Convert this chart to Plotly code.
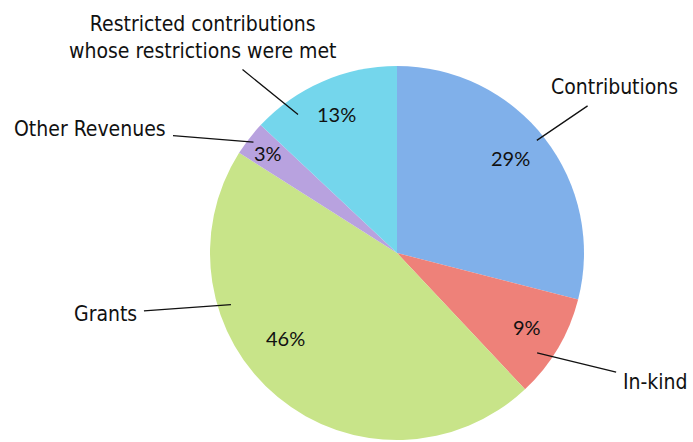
import math
import plotly.graph_objects as go

# ---- data ----
categories = ["Contributions", "In-kind", "Grants", "Other Revenues",
              "Restricted contributions<br>whose restrictions were met"]
shares = [29, 9, 46, 3, 13]

# ---- style ----
colors = ["#80B0EA", "#EE8179", "#C8E489", "#B8A2DF", "#74D6EC"]
W, H = 693, 442
CX, CY, R = 397, 253, 187          # pie centre / radius in pixels
# where each leader line touches its slice (fraction of slice span / radius)
anchor_frac = [0.49, 0.65, 0.70, 0.49, 0.24]
anchor_rad = [0.96, 0.92, 0.93, 0.97, 0.91]
# text offset (pixels) from the leader-line tip
text_off = [(78, -53), (118, 29), (-125, 9), (-163, -13), (-95, -77)]
# placement of the percentage text inside each slice
pct_frac = [0.48, 0.47, 0.58, 0.5, 0.5]
pct_rad = [0.79, 0.80, 0.75, 0.87, 0.81]

label_font = dict(family="DejaVu Sans Condensed", size=21, color="#111111")
pct_font = dict(family="Lato, Carlito, Open Sans", size=20, color="#111111")

fig = go.Figure(go.Pie(
    labels=categories,
    values=shares,
    sort=False,
    direction="clockwise",
    rotation=0,
    marker=dict(colors=colors, line=dict(width=0)),
    textinfo="none",
    hoverinfo="label+percent",
    showlegend=False,
    domain=dict(x=[(CX - R) / W, (CX + R) / W],
                y=[(H - CY - R) / H, (H - CY + R) / H]),
))


def to_paper(theta_deg, rr):
    t = math.radians(theta_deg)
    px = CX + rr * R * math.sin(t)
    py = CY - rr * R * math.cos(t)
    return px / W, 1 - py / H


total = sum(shares)
start = 0.0
annotations = []
for cat, v, f, rr, (ox, oy), pf, pr in zip(categories, shares, anchor_frac, anchor_rad,
                                           text_off, pct_frac, pct_rad):
    span = v / total * 360.0
    x, y = to_paper(start + f * span, rr)
    annotations.append(dict(
        x=x, y=y, xref="paper", yref="paper",
        text=cat, showarrow=True, arrowhead=0, arrowwidth=1.3,
        arrowcolor="#111111", ax=ox, ay=oy, font=label_font,
        borderpad=6, align="center",
    ))
    x, y = to_paper(start + pf * span, pr)
    annotations.append(dict(
        x=x, y=y, xref="paper", yref="paper",
        xanchor="center", yanchor="middle",
        text=f"{round(v / total * 100)}%", showarrow=False, font=pct_font,
    ))
    start += span

fig.update_layout(
    width=W, height=H,
    margin=dict(l=0, r=0, t=0, b=0),
    paper_bgcolor="white",
    plot_bgcolor="white",
    annotations=annotations,
)

fig.write_html("out.html", config={"displayModeBar": False},
               post_script="document.body.style.margin='0';")
